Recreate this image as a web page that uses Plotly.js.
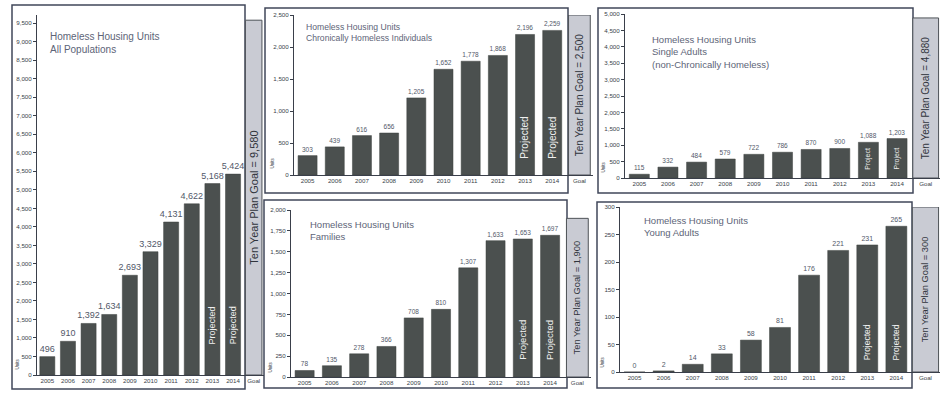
<!DOCTYPE html>
<html>
<head>
<meta charset="utf-8">
<script src="https://cdn.plot.ly/plotly-3.0.1.min.js"></script>
<style>
html,body{margin:0;padding:0;background:#ffffff;}
#chart{width:940px;height:393px;}
</style>
</head>
<body>
<div id="chart"></div>
<script>
// ---------------- DATA ----------------
const years = ['2005','2006','2007','2008','2009','2010','2011','2012','2013','2014'];
const goalCategory = 'Goal';
const projectedYears = ['2013','2014'];

const allPopulations = [496, 910, 1392, 1634, 2693, 3329, 4131, 4622, 5168, 5424];
const chronicIndividuals = [303, 439, 616, 656, 1205, 1652, 1778, 1868, 2196, 2259];
const families = [78, 135, 278, 366, 708, 810, 1307, 1633, 1653, 1697];
const singleAdults = [115, 332, 484, 579, 722, 786, 870, 900, 1088, 1203];
const youngAdults = [0, 2, 14, 33, 58, 81, 176, 221, 231, 265];

const goalValues = [9580, 2500, 1900, 4880, 300];

const panelTitles = [
  'Homeless Housing Units<br>All Populations',
  'Homeless Housing Units<br>Chronically Homeless Individuals',
  'Homeless Housing Units<br>Families',
  'Homeless Housing Units<br>Single Adults<br>(non-Chronically Homeless)',
  'Homeless Housing Units<br>Young Adults'
];
const projectedLabels = ['Projected', 'Projected', 'Projected', 'Project', 'Projected'];
const goalTextTemplate = 'Ten Year Plan Goal = %{y:,}';
const unitsLabel = 'Units';

const seriesList = [allPopulations, chronicIndividuals, families, singleAdults, youngAdults];

// ---------------- LAYOUT / STYLE ----------------
const W = 940, H = 393;
const FONT = 'Liberation Sans, Arial, sans-serif';
const px = x => x / W;
const py = y => 1 - y / H;

const panelStyle = [
  {xDom:[37,264], yDom:[15,375], top:9720, dtick:500, frame:[12,5,245,389], title:[48,29,10],
   valFont:9, projFont:9, projFrac:0.08, goalFont:11, barW:0.73, goalW:0.8, units:[17,372]},
  {xDom:[294,593], yDom:[15,175], top:2500, dtick:500, frame:[265,8,568,193], title:[304,20,8.6],
   valFont:6.5, projFont:10, projFrac:0.09, goalFont:10, barW:0.7, goalW:0.8, units:[272,171]},
  {xDom:[291,591], yDom:[210,377], top:2000, dtick:250, frame:[264,200,567,388], title:[308,217,9.5],
   valFont:6.5, projFont:9.5, projFrac:0.09, goalFont:9.3, barW:0.7, goalW:0.8, units:[270,375]},
  {xDom:[625,940], yDom:[14,178], top:5000, dtick:500, frame:[598,8,913,193], title:[650,32,9.5],
   valFont:6.5, projFont:7, projFrac:0.04, goalFont:10, barW:0.7, goalW:0.9, units:[603,175]},
  {xDom:[620,940], yDom:[207,372], top:300, dtick:50, frame:[597,202,912,388], title:[642,213,9.5],
   valFont:7, projFont:8.5, projFrac:0.06, goalFont:9.3, barW:0.72, goalW:0.9, units:[602,370]}
];

const BAR_COLOR = '#4b504f';
const GOAL_COLOR = '#c9cbd3';
const TEXT_DARK = '#3a3f4a';
const LABEL_COLOR = '#525869';
const TITLE_COLOR = '#5d6477';

const traces = [];
const layout = {
  width: W, height: H,
  margin: {l:0, r:0, t:0, b:0},
  paper_bgcolor: '#ffffff',
  plot_bgcolor: 'rgba(0,0,0,0)',
  barmode: 'overlay',
  showlegend: false,
  font: {family: FONT, color: TEXT_DARK},
  shapes: [],
  annotations: []
};

const categories = years.concat([goalCategory]);

seriesList.forEach((series, i) => {
  const s = panelStyle[i];
  const n = i === 0 ? '' : String(i + 1);
  const xa = 'x' + n, ya = 'y' + n;

  // year bars
  traces.push({
    type: 'bar', x: years, y: series, xaxis: xa, yaxis: ya,
    width: s.barW,
    marker: {color: BAR_COLOR, line: {color: '#3c403f', width: 0.5}},
    texttemplate: '%{y:,}', textposition: 'outside', cliponaxis: false,
    constraintext: 'none',
    textfont: {size: s.valFont, color: LABEL_COLOR, family: FONT},
    hoverinfo: 'skip'
  });
  // goal bar
  traces.push({
    type: 'bar', x: [goalCategory], y: [goalValues[i]], xaxis: xa, yaxis: ya,
    width: s.goalW,
    marker: {color: GOAL_COLOR, line: {color: '#4e5358', width: 1}},
    texttemplate: goalTextTemplate, textposition: 'inside', textangle: -90,
    insidetextanchor: 'middle', constraintext: 'none', cliponaxis: false,
    textfont: {size: s.goalFont, color: '#30343c', family: FONT},
    hoverinfo: 'skip'
  });

  layout['xaxis' + n] = {
    domain: [px(s.xDom[0]), px(s.xDom[1])],
    anchor: ya, type: 'category', categoryorder: 'array', categoryarray: categories,
    range: [-0.5, categories.length - 0.5],
    showline: true, linecolor: '#3a3f4a', linewidth: 1,
    ticks: '', showgrid: false, zeroline: false,
    tickfont: {size: 6.2, color: '#3a3f4a', family: FONT}
  };
  layout['yaxis' + n] = {
    domain: [py(s.yDom[1]), py(s.yDom[0])],
    anchor: xa, range: [0, s.top], dtick: s.dtick, tick0: 0,
    tickformat: ',', showline: true, linecolor: '#3a3f4a', linewidth: 1,
    ticks: 'outside', ticklen: 3, tickcolor: '#3a3f4a',
    showgrid: false, zeroline: false,
    tickfont: {size: 6.2, color: '#3a3f4a', family: FONT}
  };

  // frame
  layout.shapes.push({
    type: 'rect', xref: 'paper', yref: 'paper', layer: 'below',
    x0: px(s.frame[0]), x1: px(s.frame[2]), y0: py(s.frame[3]), y1: py(s.frame[1]),
    line: {color: '#40475a', width: 1.5}, fillcolor: '#ffffff'
  });

  // title
  layout.annotations.push({
    xref: 'paper', yref: 'paper', x: px(s.title[0]), y: py(s.title[1]),
    xanchor: 'left', yanchor: 'top', align: 'left', showarrow: false,
    text: panelTitles[i], font: {size: s.title[2], color: TITLE_COLOR, family: FONT}
  });

  // projected labels (inside the projected bars, reading upward);
  // category axes take the category index as annotation position
  projectedYears.forEach(yr => {
    layout.annotations.push({
      xref: xa, yref: ya, x: categories.indexOf(yr), y: s.projFrac * s.top,
      xanchor: 'center', yanchor: 'bottom', textangle: -90, showarrow: false,
      text: projectedLabels[i], font: {size: s.projFont, color: '#f0f0f0', family: FONT}
    });
  });

  // units label
  layout.annotations.push({
    xref: 'paper', yref: 'paper', x: px(s.units[0]), y: py(s.units[1]),
    xanchor: 'center', yanchor: 'bottom', textangle: -90, showarrow: false,
    text: unitsLabel, font: {size: 4.5, color: '#3a3f4a', family: FONT}
  });
});

Plotly.newPlot('chart', traces, layout, {staticPlot: true, displayModeBar: false});
</script>
</body>
</html>
